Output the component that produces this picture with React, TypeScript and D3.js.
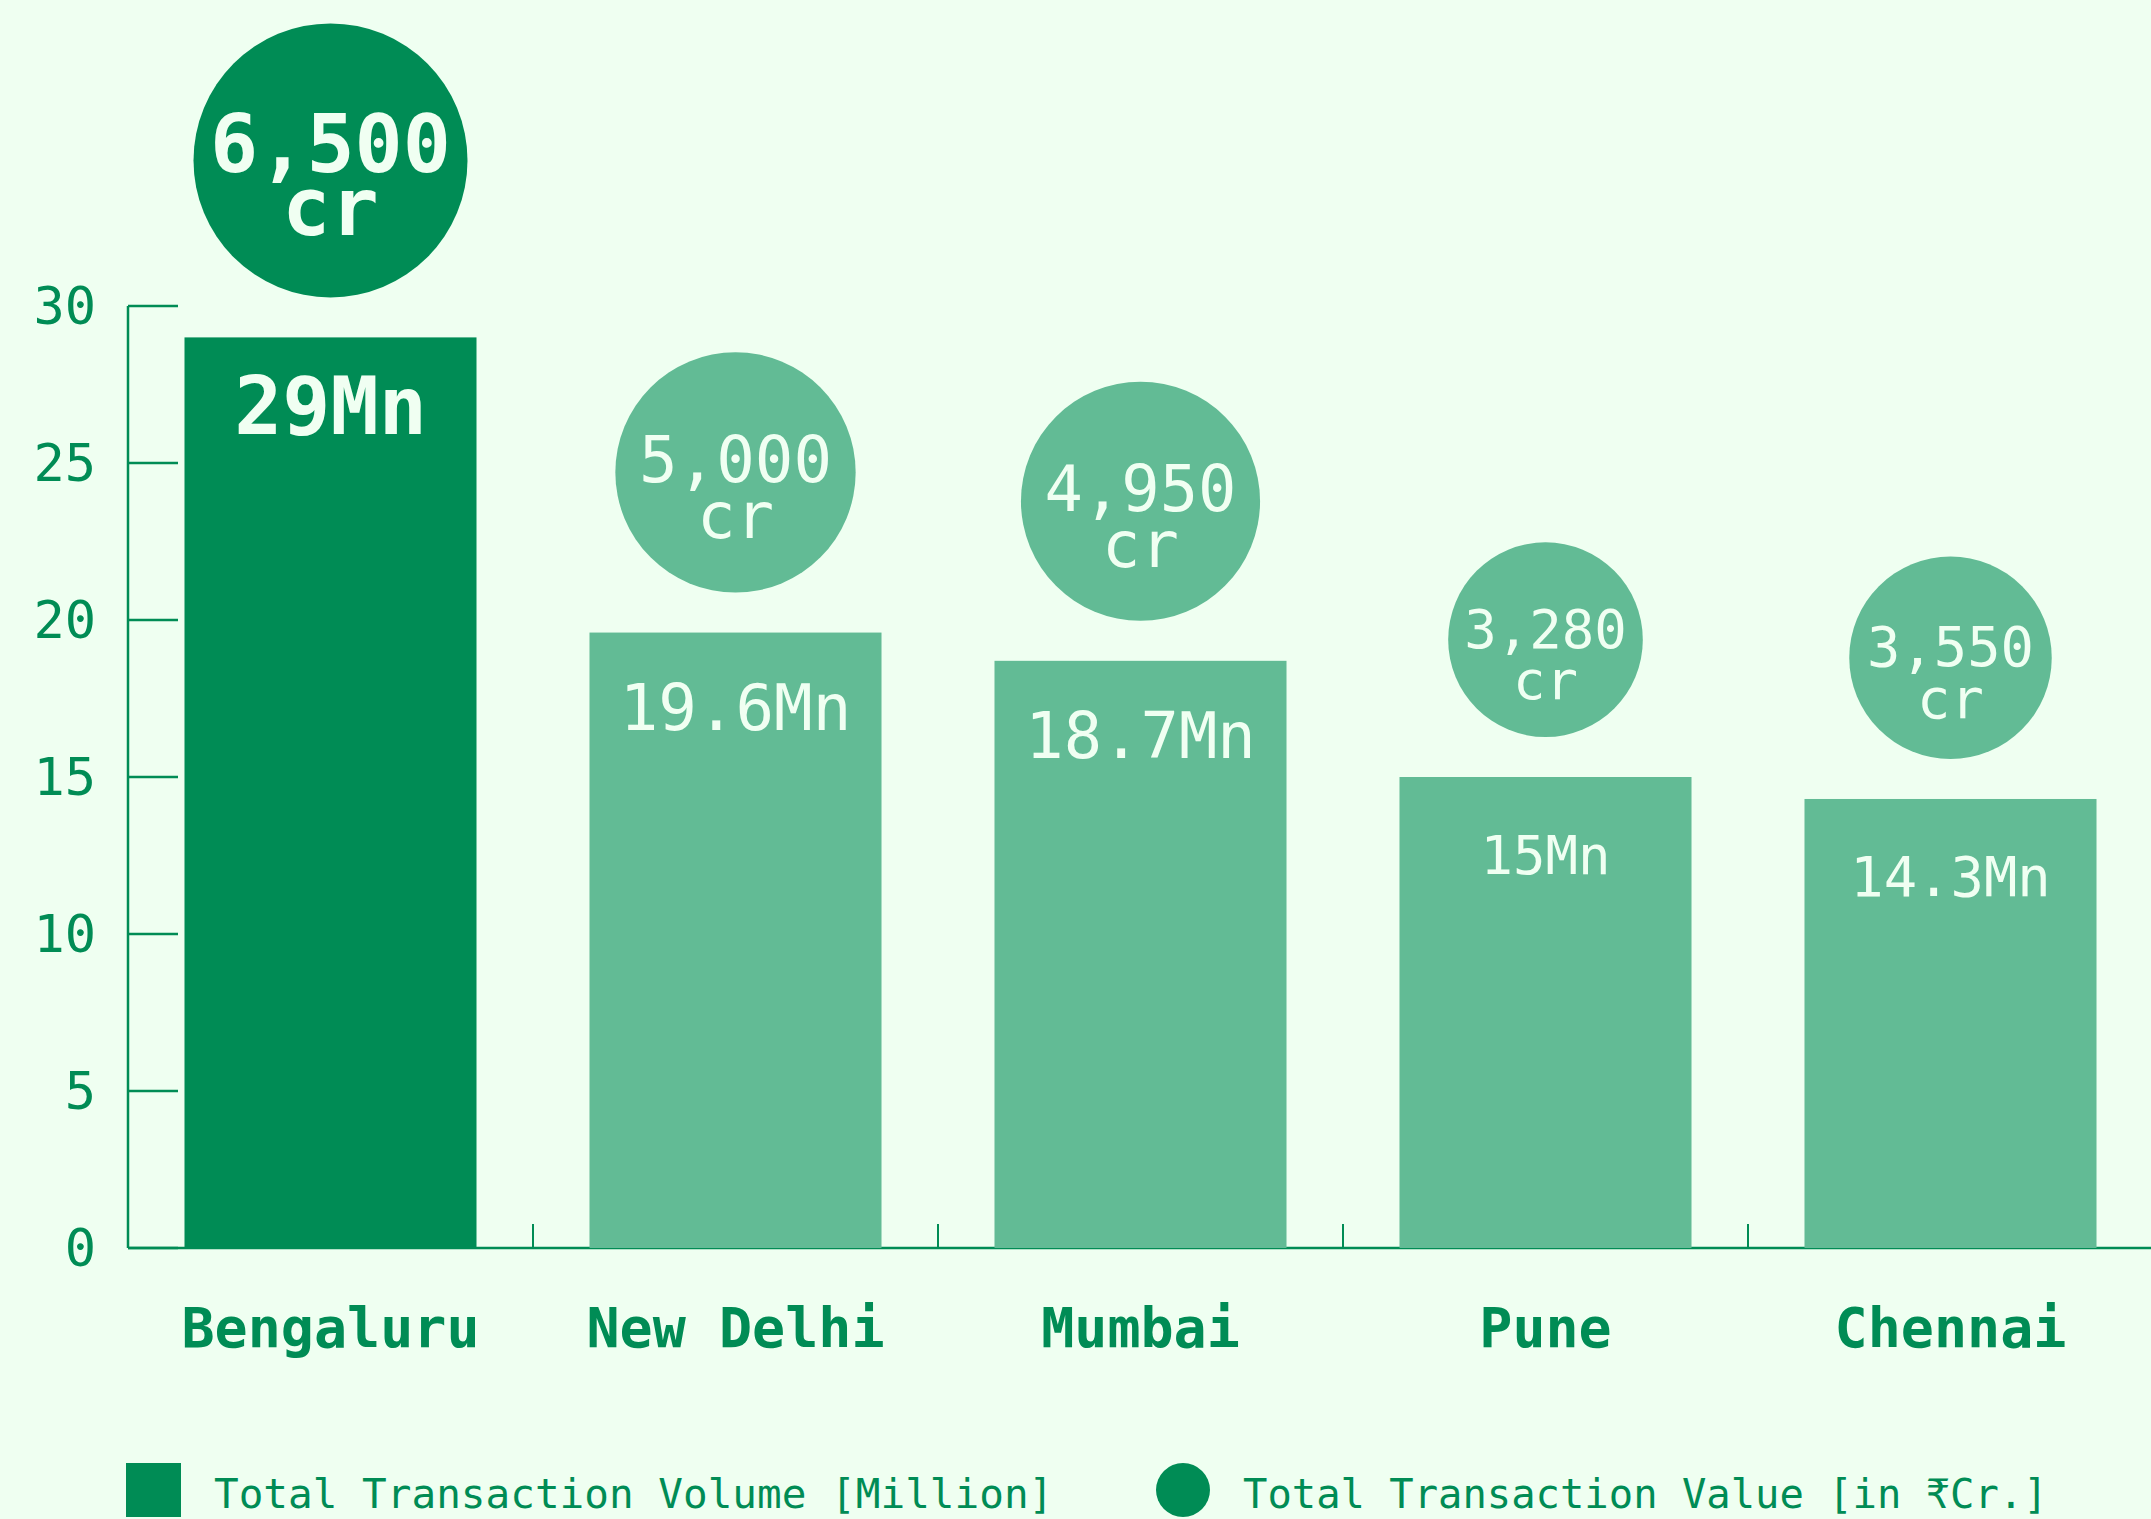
import React from 'react';
import * as d3 from 'd3';

const cities = ['Bengaluru', 'New Delhi', 'Mumbai', 'Pune', 'Chennai'];
const volumeMn = [29, 19.6, 18.7, 15, 14.3];
const valueCr = [6500, 5000, 4950, 3280, 3550];
const volumeLabels = ['29Mn', '19.6Mn', '18.7Mn', '15Mn', '14.3Mn'];
const valueLabels = ['6,500', '5,000', '4,950', '3,280', '3,550'];
const valueUnit = 'cr';
const highlighted = ['Bengaluru'];
const yTicks = [0, 5, 10, 15, 20, 25, 30];
const legendLabels = ['Total Transaction Volume [Million]', 'Total Transaction Value [in ₹Cr.]'];

const W = 2151;
const H = 1519;
const BG = '#effff1';
const DARK = '#008c55';
const LIGHT = '#62bb95';
const TXT = '#f0fff2';
const FONT = '"DejaVu Sans Mono", "Liberation Mono", monospace';

export default function App() {
  const x = d3.scaleBand<string>().domain(cities).range([128, 2153]).paddingInner(0.279).paddingOuter(0.1395);
  const y = d3.scaleLinear().domain([0, 30]).range([1248, 306]);
  const r = d3.scaleSqrt().domain([0, 6500]).range([0, 137]);
  const fsScale = d3.scaleLinear().domain([98, 120, 137]).range([54, 64, 80]).clamp(true);
  const step = x.step();
  const x0 = x.range()[0];

  return (
    <svg width={W} height={H} style={{ position: 'absolute', left: 0, top: 0, background: BG }} fontFamily={FONT}>
      <rect x={0} y={0} width={W} height={H} fill={BG} />
      {/* y axis */}
      <line x1={128} x2={128} y1={y(30)} y2={y(0)} stroke={DARK} strokeWidth={2.5} />
      {yTicks.map((t) => (
        <g key={t}>
          <line x1={128} x2={178} y1={y(t)} y2={y(t)} stroke={DARK} strokeWidth={2.5} />
          <text x={96} y={y(t)} dy="0.35em" textAnchor="end" fontSize={52} fill={DARK}>{t}</text>
        </g>
      ))}
      {/* x axis */}
      <line x1={128} x2={W} y1={y(0)} y2={y(0)} stroke={DARK} strokeWidth={2.5} />
      {cities.slice(1).map((c, i) => (
        <line key={c} x1={x0 + step * (i + 1)} x2={x0 + step * (i + 1)} y1={y(0)} y2={y(0) - 24} stroke={DARK} strokeWidth={2} />
      ))}
      {cities.map((c, i) => {
        const isHi = highlighted.includes(c);
        const fill = isHi ? DARK : LIGHT;
        const bx = x(c)!;
        const bw = x.bandwidth();
        const cx = bx + bw / 2;
        const top = y(volumeMn[i]);
        const rad = r(valueCr[i]);
        const fs = fsScale(rad);
        const cy = top - 40 - rad;
        const numBase = cy + 0.15 * fs;
        const lineGap = 0.45 * fs + 27;
        const weight = isHi ? 700 : 400;
        return (
          <g key={c}>
            <rect x={bx} y={top} width={bw} height={y(0) - top} fill={fill} />
            <text x={cx} y={top + 97} textAnchor="middle" fontSize={fs} fontWeight={weight} fill={TXT}>{volumeLabels[i]}</text>
            <circle cx={cx} cy={cy} r={rad} fill={fill} />
            <text x={cx} y={numBase} textAnchor="middle" fontSize={fs} fontWeight={weight} fill={TXT}>
              <tspan x={cx} y={numBase}>{valueLabels[i]}</tspan>
              <tspan x={cx} y={numBase + lineGap}>{valueUnit}</tspan>
            </text>
            <text x={cx} y={1347} textAnchor="middle" fontSize={55} fontWeight={700} fill={DARK}>{c}</text>
          </g>
        );
      })}
      {/* legend */}
      <rect x={126} y={1463} width={55} height={54} fill={DARK} />
      <text x={214} y={1508} fontSize={41} fill={DARK}>{legendLabels[0]}</text>
      <circle cx={1183} cy={1490} r={27} fill={DARK} />
      <text x={1243} y={1508} fontSize={40.5} fill={DARK}>{legendLabels[1]}</text>
    </svg>
  );
}
